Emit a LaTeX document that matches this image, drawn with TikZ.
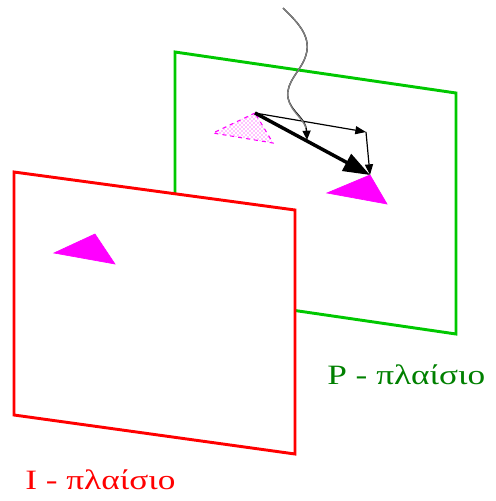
\documentclass[tikz,border=0pt]{standalone}
\usepackage{fontspec}
\setmainfont{Liberation Serif}
\usetikzlibrary{arrows.meta,patterns}
\definecolor{frgreen}{RGB}{0,200,0}
\definecolor{frred}{RGB}{255,0,0}
\definecolor{lblgreen}{RGB}{0,128,0}
\definecolor{mag}{RGB}{255,0,255}
\begin{document}
\begin{tikzpicture}[x=0.75pt,y=-0.75pt,
  framegreen/.style={draw=frgreen,line width=2.2pt,line join=miter},
  framered/.style={draw=frred,fill=white,line width=2.2pt,line join=miter},
  solidtri/.style={fill=mag,draw=mag,line width=0.5pt},
  thinvec/.style={draw=black,line width=0.9pt,-{Triangle[length=8pt,width=6pt]}},
  thickvec/.style={draw=black,line width=2.6pt,-{Triangle[length=20pt,width=14pt]}},
  lbl/.style={font=\fontsize{21}{23}\selectfont,anchor=base west,inner sep=0pt}]
\useasboundingbox (0,0) rectangle (496,501);
% green frame
\coordinate (g1) at (175,52);
\coordinate (g2) at (456,93);
\coordinate (g3) at (456,334);
\coordinate (g4) at (175,293);
\draw[framegreen] (g1) -- (g2) -- (g3) -- (g4) -- cycle;
% contents of green frame
\coordinate (o) at (255,113);
\coordinate (dl) at (213,133);
\coordinate (dr) at (273,143);
\fill[pattern=crosshatch dots,pattern color=mag] (o) -- (dl) -- (dr) -- cycle;
\draw[mag,dashed,line width=0.8pt] (o) -- (dl) -- (dr) -- cycle;
\coordinate (ta) at (370,175);
\coordinate (tb) at (327,193);
\coordinate (tc) at (387,204);
\draw[solidtri] (ta) -- (tb) -- (tc) -- cycle;
\coordinate (h) at (366,132);
\draw[thinvec] (o) -- (h);
\draw[thinvec] (h) -- (ta);
\draw[thickvec] (o) -- (ta);
\coordinate (w0) at (283,8);
\coordinate (wt) at (307,140);
\draw[line width=1pt,-{Triangle[length=7pt,width=6pt]},black] (w0) .. controls (295,20) and (312,35) .. (306,55)
  .. controls (302,70) and (285,82) .. (288,98)
  .. controls (291,112) and (306,118) .. (wt);
\draw[gray,line width=1pt] (w0) .. controls (295,20) and (312,35) .. (306,55)
  .. controls (302,70) and (285,82) .. (288,98)
  .. controls (291,112) and (303,118) .. (306,128);
% red frame
\coordinate (r1) at (14,172);
\coordinate (r2) at (295,210);
\coordinate (r3) at (295,454);
\coordinate (r4) at (14,415);
\draw[framered] (r1) -- (r2) -- (r3) -- (r4) -- cycle;
\coordinate (sa) at (95,234);
\coordinate (sb) at (54,253);
\coordinate (sc) at (115,264);
\draw[solidtri] (sa) -- (sb) -- (sc) -- cycle;
% labels
\node[lbl,text=lblgreen] (pl) at (327,384) {\scalebox{1.26}[1]{P - πλαίσιο}};
\node[lbl,text=frred] (il) at (25,489) {\scalebox{1.26}[1]{I - πλαίσιο}};
\end{tikzpicture}
\end{document}
